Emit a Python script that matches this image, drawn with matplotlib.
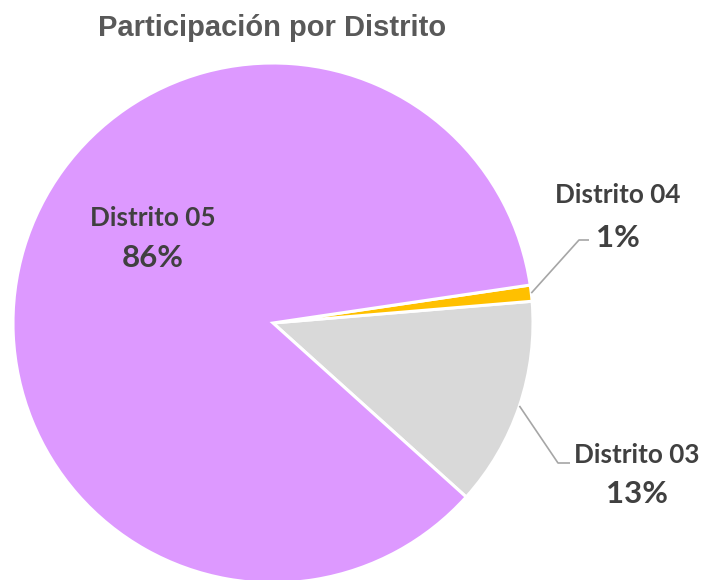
import numpy as np
import matplotlib
matplotlib.use("Agg")
import matplotlib.pyplot as plt

# Participation share per district (percent)
districts = ["Distrito 03", "Distrito 04", "Distrito 05"]
shares = [13, 1, 86]
colors = ["#D9D9D9", "#FFC000", "#DD99FF"]

W, H = 704, 580
fig = plt.figure(figsize=(W / 100, H / 100), dpi=100)

# Pie centre and radius in pixels (origin at top-left)
cx, cy, R = 273, 323, 260
ax = fig.add_axes([(cx - R) / W, (H - cy - R) / H, 2 * R / W, 2 * R / H])

wedges, _ = ax.pie(shares, colors=colors, startangle=-42, counterclock=True,
                   radius=1, wedgeprops=dict(edgecolor="white", linewidth=2.2),
                   labels=None)
for w in wedges:
    w.set_clip_on(False)

ax.set_xlim(-1, 1)
ax.set_ylim(-1, 1)
ax.set_aspect("equal")
ax.axis("off")


def px(x, y):
    """Convert pixel coordinates into data coordinates of the pie axes."""
    return (x - cx) / R, (cy - y) / R


label_font = dict(family=["Lato", "DejaVu Sans"], fontweight="bold", color="#404040")
line_color = "#A6A6A6"

# Label positions (pixels): name line and percent line, plus leader elbow
placements = {
    "Distrito 03": dict(name=(637, 455), pct=(637, 494), elbow=(558, 463), end=(570, 463)),
    "Distrito 04": dict(name=(618, 195), pct=(618, 238), elbow=(579, 240), end=(589, 240)),
    "Distrito 05": dict(name=(153, 218), pct=(153, 258)),
}

for w, name, val in zip(wedges, districts, shares):
    p = placements[name]
    tx, ty = px(*p["name"])
    ax.text(tx, ty, name, ha="center", va="center", fontsize=18.8, clip_on=False, **label_font)
    tx, ty = px(*p["pct"])
    ax.text(tx, ty, f"{val}%", ha="center", va="center", fontsize=22.5, clip_on=False, **label_font)
    if "elbow" in p:
        mid = np.deg2rad((w.theta1 + w.theta2) / 2)
        sx, sy = np.cos(mid), np.sin(mid)
        ex, ey = px(*p["elbow"])
        fx, fy = px(*p["end"])
        ax.plot([sx, ex, fx], [sy, ey, fy], color=line_color, lw=1.2,
                clip_on=False, solid_capstyle="butt")

fig.text(272 / W, 1 - 28 / H, "Participación por Distrito", ha="center", va="center",
         fontsize=21, fontweight="bold", color="#595959",
         family=["Liberation Sans", "DejaVu Sans"])

fig.savefig("out.png", dpi=100, facecolor="white")
